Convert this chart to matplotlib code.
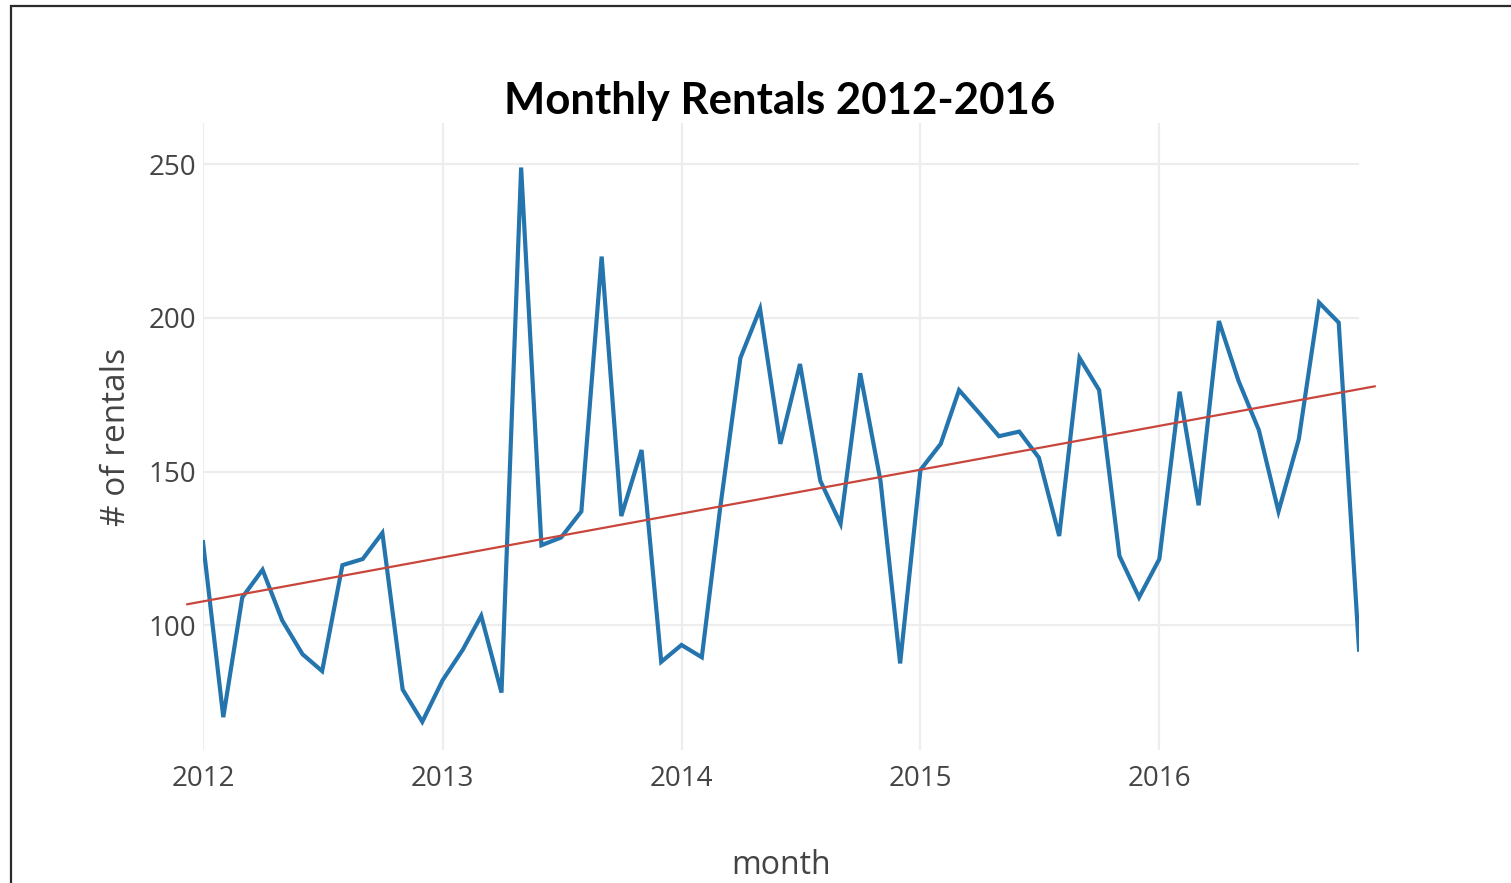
import matplotlib
matplotlib.use("Agg")
import matplotlib.pyplot as plt
import matplotlib.dates as mdates
import numpy as np
import pandas as pd
from matplotlib.patches import Rectangle

# Monthly rental counts, Jan 2012 .. Nov 2016
months = pd.date_range("2012-01-01", "2016-11-01", freq="MS")
rentals_2012 = [127, 70, 109, 118, 101.5, 90.5, 85, 119.5, 121.5, 130, 79, 68.5]
rentals_2013 = [82, 92, 103, 78, 249, 126, 128.5, 137, 220, 135.5, 157, 88]
rentals_2014 = [93.5, 89.5, 138, 187, 203, 159, 185, 147, 133, 182, 147, 87.5]
rentals_2015 = [150.5, 159, 176.5, 169, 161.5, 163, 154.5, 129, 187, 176.5, 122.5, 109]
rentals_2016 = [121.5, 176, 139, 199, 179.5, 163.5, 137, 160.5, 205, 198.5, 92]
rentals = rentals_2012 + rentals_2013 + rentals_2014 + rentals_2015 + rentals_2016

# trend line value at first and last month
trend_start = 107.7
trend_end = 176.8

year_ticks = ["2012", "2013", "2014", "2015", "2016"]
y_ticks = [100, 150, 200, 250]

C_LINE = "#2474ad"
C_TREND = "#c8463c"
C_GRID = "#ededed"
C_TEXT = "#444444"

W, H = 1511, 883
fig = plt.figure(figsize=(W / 100, H / 100), dpi=100)
ax = fig.add_axes([203 / W, 1 - 750 / H, (1359 - 203) / W, (750 - 123) / H])

ax.plot(months, rentals, color=C_LINE, lw=3.0, solid_joinstyle="miter", zorder=3)

# trend line extends a bit past the data on both sides
x0 = mdates.date2num(months[0])
x1 = mdates.date2num(months[-1])
ext = 24
slope = (trend_end - trend_start) / (x1 - x0)
tx = np.array([x0 - ext, x1 + ext])
ty = trend_start + slope * (tx - x0)
ax.plot(tx, ty, color=C_TREND, lw=1.6, clip_on=False, zorder=4)

ax.set_xlim(months[0], months[-1])
ax.set_ylim(59.3, 263.5)
ax.set_xticks([pd.Timestamp(f"{y}-01-01") for y in year_ticks])
ax.set_xticklabels(year_ticks)
ax.set_yticks(y_ticks)
ax.grid(True, color=C_GRID, lw=1.6)
ax.set_axisbelow(True)
for s in ax.spines.values():
    s.set_visible(False)
ax.tick_params(length=0, labelsize=20, labelcolor=C_TEXT)
ax.tick_params(axis="x", pad=11)
ax.tick_params(axis="y", pad=5)
for lab in ax.get_xticklabels() + ax.get_yticklabels():
    lab.set_family("Open Sans")

ax.set_xlabel("month", fontsize=23, color=C_TEXT, family="Open Sans", labelpad=40)
ax.set_ylabel("# of rentals", fontsize=24, color=C_TEXT, family="Open Sans", labelpad=11)

fig.text(780 / W, 1 - 101 / H, "Monthly Rentals 2012-2016", ha="center", va="center",
         fontsize=31.5, fontweight="bold", family="Lato", color="black")

# slide frame (only top and left edges visible)
fig.patches.append(Rectangle((11 / W, -0.1), 1.2, 1 - 6 / H + 0.1,
                             transform=fig.transFigure, fill=False,
                             edgecolor="#2a2a2a", lw=1.6, clip_on=False))

fig.savefig("out.png", dpi=100)
